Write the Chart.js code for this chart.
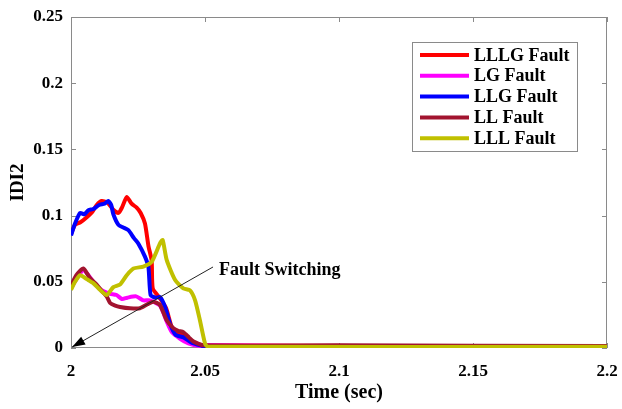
<!DOCTYPE html>
<html>
<head>
<meta charset="utf-8">
<script src="https://cdn.jsdelivr.net/npm/chart.js@4/dist/chart.umd.min.js"></script>
<style>
html,body{margin:0;padding:0;background:#fff;}
canvas{display:block;}
</style>
</head>
<body>
<canvas id="c" width="622" height="409"></canvas>
<script>
// ---- data ----
const seriesNames = ["LLLG Fault", "LG Fault", "LLG Fault", "LL Fault", "LLL Fault"];
const seriesColors = ["#ff0000", "#ff00ff", "#0000ff", "#a2142f", "#c0c000"];

const lllgT = [2.0000,2.0015,2.0035,2.0060,2.0080,2.0096,2.0114,2.0135,2.0160,2.0177,2.0190,2.0208,2.0226,2.0245,2.0260,2.0276,2.0289,2.0301,2.0305,2.0330,2.0355,2.0380,2.0420,2.0460,2.0500,2.2000];
const lllgV = [0.086,0.093,0.095,0.099,0.103,0.108,0.111,0.110,0.104,0.102,0.106,0.114,0.109,0.106,0.102,0.094,0.077,0.066,0.045,0.038,0.030,0.014,0.010,0.004,0.002,0.001];

const lgT = [2.0000,2.0020,2.0046,2.0065,2.0083,2.0100,2.0120,2.0145,2.0170,2.0190,2.0210,2.0243,2.0270,2.0295,2.0332,2.0357,2.0376,2.0407,2.0438,2.0480,2.0500,2.1200,2.2000];
const lgV = [0.045,0.052,0.059,0.055,0.050,0.046,0.043,0.041,0.040,0.037,0.038,0.039,0.036,0.036,0.032,0.020,0.012,0.007,0.0035,0.0015,0.002,0.001,0.001];

const llgT = [2.0000,2.0015,2.0034,2.0050,2.0065,2.0083,2.0105,2.0125,2.0139,2.0150,2.0158,2.0177,2.0195,2.0214,2.0235,2.0251,2.0276,2.0289,2.0297,2.0315,2.0332,2.0351,2.0370,2.0390,2.0420,2.0450,2.0490,2.0500,2.2000];
const llgV = [0.085,0.094,0.102,0.101,0.104,0.105,0.108,0.109,0.111,0.108,0.101,0.093,0.091,0.089,0.083,0.079,0.069,0.061,0.040,0.038,0.0385,0.031,0.018,0.010,0.008,0.004,0.0015,0.001,0.001];

const llT = [2.0000,2.0020,2.0046,2.0070,2.0095,2.0115,2.0133,2.0146,2.0165,2.0183,2.0220,2.0257,2.0285,2.0307,2.0332,2.0357,2.0382,2.0400,2.0419,2.0440,2.0456,2.0495,2.1000,2.2000];
const llV = [0.047,0.055,0.060,0.053,0.048,0.043,0.039,0.034,0.032,0.031,0.030,0.030,0.033,0.035,0.0325,0.021,0.015,0.013,0.012,0.008,0.005,0.002,0.002,0.0015];

const lllT = [2.0000,2.0015,2.0034,2.0059,2.0083,2.0108,2.0133,2.0158,2.0183,2.0208,2.0233,2.0270,2.0301,2.0332,2.0342,2.0357,2.0388,2.0419,2.0444,2.0463,2.0481,2.0500,2.0510,2.2000];
const lllV = [0.044,0.050,0.055,0.052,0.049,0.044,0.040,0.046,0.048,0.055,0.060,0.0615,0.065,0.079,0.0815,0.0665,0.0515,0.045,0.0435,0.036,0.021,0.0035,0.001,0.001];

const xTicks = [2, 2.05, 2.1, 2.15, 2.2];
const yTicks = [0, 0.05, 0.1, 0.15, 0.2, 0.25];
const xTickLabels = ["2", "2.05", "2.1", "2.15", "2.2"];
const yTickLabels = ["0", "0.05", "0.1", "0.15", "0.2", "0.25"];
const xTitle = "Time (sec)";
const yTitle = "IDI2";
const annotationText = "Fault Switching";
// ---------------------------------------

const seriesT = [lllgT, lgT, llgT, llT, lllT];
const seriesV = [lllgV, lgV, llgV, llV, lllV];
const FONT = "'Liberation Serif', 'Times New Roman', serif";

const datasets = seriesNames.map((name, i) => ({
  label: name,
  data: seriesT[i].map((t, k) => ({x: t, y: seriesV[i][k]})),
  borderColor: seriesColors[i],
  backgroundColor: seriesColors[i],
  borderWidth: 4,
  pointRadius: 0,
  showLine: true,
  tension: 0.2,
  order: seriesNames.length - i   // later series drawn on top, as in MATLAB
}));

const boxPlugin = {
  id: 'boxPlugin',
  beforeDatasetsDraw(chart) {
    const {ctx, chartArea: a, scales: {x, y}} = chart;
    ctx.save();
    ctx.strokeStyle = '#8a8a8a';
    ctx.lineWidth = 1;
    ctx.strokeRect(a.left + 0.5, a.top + 0.5, a.right - a.left - 1, a.bottom - a.top - 1);
    const tl = 5;
    ctx.beginPath();
    xTicks.forEach(v => {
      const px = Math.round(x.getPixelForValue(v)) + 0.5;
      ctx.moveTo(px, a.bottom); ctx.lineTo(px, a.bottom - tl);
      ctx.moveTo(px, a.top); ctx.lineTo(px, a.top + tl);
    });
    yTicks.forEach(v => {
      const py = Math.round(y.getPixelForValue(v)) + 0.5;
      ctx.moveTo(a.left, py); ctx.lineTo(a.left + tl, py);
      ctx.moveTo(a.right, py); ctx.lineTo(a.right - tl, py);
    });
    ctx.stroke();
    ctx.restore();
  },
  afterDatasetsDraw(chart) {
    const {ctx, scales: {x, y}} = chart;
    ctx.save();
    // annotation arrow
    const x1 = x.getPixelForValue(2.0530), y1 = y.getPixelForValue(0.0612);
    const x2 = x.getPixelForValue(2.0004), y2 = y.getPixelForValue(0.0007);
    ctx.strokeStyle = '#222';
    ctx.lineWidth = 1;
    ctx.beginPath(); ctx.moveTo(x1, y1); ctx.lineTo(x2, y2); ctx.stroke();
    const ang = Math.atan2(y2 - y1, x2 - x1);
    const L = 13, W = 4.5;
    ctx.fillStyle = '#000';
    ctx.beginPath();
    ctx.moveTo(x2, y2);
    ctx.lineTo(x2 - L * Math.cos(ang) + W * Math.sin(ang), y2 - L * Math.sin(ang) - W * Math.cos(ang));
    ctx.lineTo(x2 - L * Math.cos(ang) - W * Math.sin(ang), y2 - L * Math.sin(ang) + W * Math.cos(ang));
    ctx.closePath(); ctx.fill();
    ctx.font = "bold 18px " + FONT;
    ctx.textBaseline = 'middle';
    ctx.textAlign = 'left';
    ctx.fillStyle = '#000';
    ctx.fillText(annotationText, x.getPixelForValue(2.0552), y.getPixelForValue(0.0589));

    // legend box
    const bx = 412, by = 42, bw = 165, bh = 109;
    ctx.fillStyle = '#fff';
    ctx.fillRect(bx, by, bw, bh);
    ctx.strokeStyle = '#8a8a8a';
    ctx.lineWidth = 1;
    ctx.strokeRect(bx + 0.5, by + 0.5, bw, bh);
    ctx.font = "bold 18px " + FONT;
    seriesNames.forEach((n, i) => {
      const ry = 55 + i * 20.8;
      ctx.strokeStyle = seriesColors[i];
      ctx.lineWidth = 4;
      ctx.beginPath(); ctx.moveTo(420, ry); ctx.lineTo(469, ry); ctx.stroke();
      ctx.fillStyle = '#000';
      ctx.fillText(n, 474, ry + 1);
    });
    ctx.restore();
  }
};

new Chart(document.getElementById('c'), {
  type: 'scatter',
  data: {datasets},
  options: {
    responsive: false,
    animation: false,
    devicePixelRatio: 1,
    layout: {padding: {top: 17, right: 15, left: 0, bottom: 0}},
    plugins: {legend: {display: false}, tooltip: {enabled: false}},
    scales: {
      x: {
        type: 'linear', min: 2, max: 2.2,
        afterBuildTicks: s => { s.ticks = xTicks.map(v => ({value: v})); },
        afterFit: s => { s.height = 61; s.paddingLeft = 0; s.paddingRight = 0; },
        grid: {display: false, drawTicks: false},
        border: {display: false},
        ticks: {
          padding: 13, color: '#000', maxRotation: 0,
          font: {family: FONT, weight: 'bold', size: 17},
          callback: (v, i) => xTickLabels[i]
        },
        title: {display: true, text: xTitle, color: '#000',
          font: {family: FONT, weight: 'bold', size: 20}, padding: {top: 2, bottom: 4}}
      },
      y: {
        type: 'linear', min: 0, max: 0.25,
        afterBuildTicks: s => { s.ticks = yTicks.map(v => ({value: v})); },
        afterFit: s => { s.width = 71; s.paddingTop = 0; s.paddingBottom = 0; },
        grid: {display: false, drawTicks: false},
        border: {display: false},
        ticks: {
          padding: 8, color: '#000',
          font: {family: FONT, weight: 'bold', size: 17},
          callback: (v, i) => yTickLabels[i]
        },
        title: {display: true, text: yTitle, color: '#000',
          font: {family: FONT, weight: 'bold', size: 19}, padding: {top: 7, bottom: 2}}
      }
    }
  },
  plugins: [boxPlugin]
});
</script>
</body>
</html>
